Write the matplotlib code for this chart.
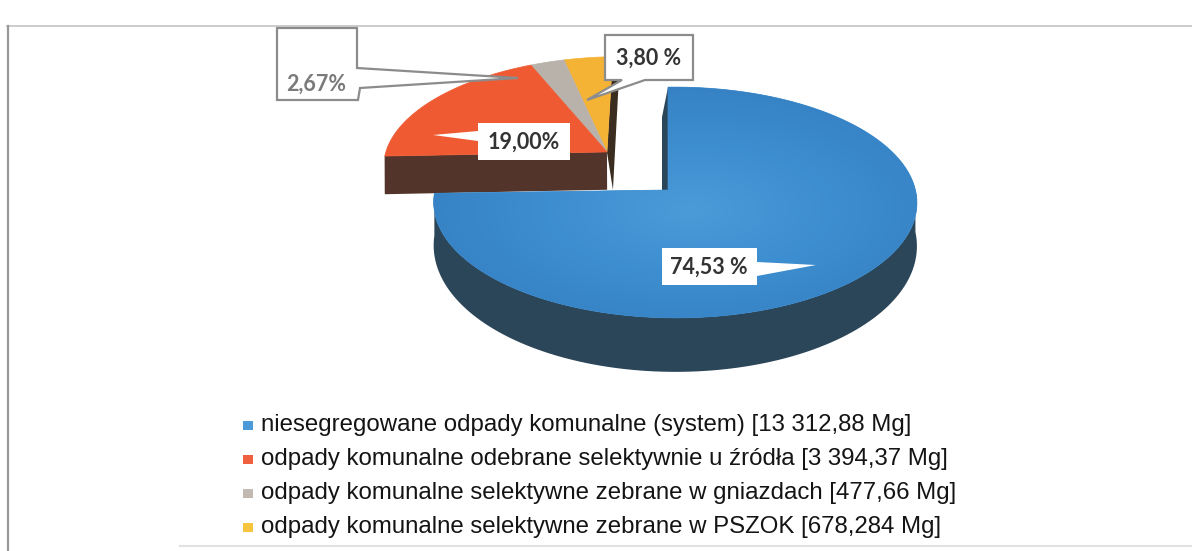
import matplotlib
matplotlib.use('Agg')
import matplotlib.pyplot as plt
from matplotlib.patches import Polygon, Rectangle
from matplotlib.colors import LinearSegmentedColormap
import numpy as np

# dane
kategorie = ['niesegregowane odpady komunalne (system)',
             'odpady komunalne odebrane selektywnie u źródła',
             'odpady komunalne selektywne zebrane w gniazdach',
             'odpady komunalne selektywne zebrane w PSZOK']
masa_mg = [13312.88, 3394.37, 477.66, 678.284]
masa_txt = ['13 312,88', '3 394,37', '477,66', '678,284']
sufiks_proc = [' %', '%', '%', ' %']

kolory_gora = ['#3b8dd0', '#ef5a32', '#b9b2ab', '#f5b335']
kolory_bok = ['#2c4659', '#52342a', '#5e5650', '#3a2c1e']
kolory_leg = ['#4a9ad8', '#ef6040', '#c2bab2', '#f7c440']

# kolejnosc wycinkow od 90 stopni przeciwnie do zegara
kolejnosc = [3, 2, 1, 0]

# geometria "3D"
CX, CY, R, A = 668, 190, 240, 114
P, Q = 0.108, -0.03
ODSUN = (-0.266, 0.349)   # wysuniecie grupy malych wycinkow


def rzut(u, v):
    s = 1.0 / (1 + P * v + Q * u)
    return CX + R * u * s, CY - A * v * s


def glebokosc(v):
    return 42 - 12 * v


def luk(u0, v0, a, b, n=120):
    t = np.radians(np.linspace(a, b, n))
    u = u0 + np.cos(t)
    v = v0 + np.sin(t)
    x, y = rzut(u, v)
    return x, y, v


def gora(u0, v0, a, b):
    x, y, v = luk(u0, v0, a, b)
    xc, yc = rzut(u0, v0)
    return np.column_stack([np.r_[xc, x], np.r_[yc, y]])


def bok(u0, v0, a, b):
    wyniki = []
    for lo, hi in [(180, 360), (540, 720)]:
        aa, bb = max(a, lo), min(b, hi)
        if bb > aa:
            x, y, v = luk(u0, v0, aa, bb)
            d = glebokosc(v)
            pts = np.column_stack([np.r_[x, x[::-1]], np.r_[y, (y + d)[::-1]]])
            wyniki.append(pts)
    return wyniki


def sciana(u0, v0, kat, normalna):
    n = np.radians(normalna)
    if np.sin(n) > 0.02:
        return None
    dx = 6 * np.cos(n)
    t = np.radians(kat)
    x0, y0 = rzut(u0, v0)
    x1, y1 = rzut(u0 + np.cos(t), v0 + np.sin(t))
    d0 = glebokosc(v0)
    d1 = glebokosc(v0 + np.sin(t))
    return np.array([[x0, y0], [x1, y1], [x1 + dx, y1 + d1], [x0 + dx, y0 + d0]])


suma = sum(masa_mg)
katy = {}
start = 90.0
for i in kolejnosc:
    kat = 360.0 * masa_mg[i] / suma
    katy[i] = (start, start + kat)
    start += kat

fig = plt.figure(figsize=(11.92, 5.51), dpi=100)
ax = fig.add_axes([0, 0, 1, 1])
ax.set_xlim(0, 1192)
ax.set_ylim(551, 0)
ax.axis('off')

# ramka ze skanu
ax.plot([7, 1192], [26, 26], color='#c4c4c4', lw=1.2)
ax.plot([8, 8], [26, 551], color='#9a9a9a', lw=1.6)
ax.plot([180, 1192], [546, 546], color='#e2e2e2', lw=1.5)

# grupa wysunieta (male wycinki)
grupa = [3, 2, 1]
u0, v0 = ODSUN
a_gr, b_gr = katy[3][0], katy[1][1]
for i in grupa:
    for pts in bok(u0, v0, *katy[i]):
        ax.add_patch(Polygon(pts, closed=True, fc=kolory_bok[i], ec='none'))
f = sciana(u0, v0, a_gr, a_gr - 90)
if f is not None:
    ax.add_patch(Polygon(f, closed=True, fc=kolory_bok[3], ec='none'))
f = sciana(u0, v0, b_gr, b_gr + 90)
if f is not None:
    ax.add_patch(Polygon(f, closed=True, fc=kolory_bok[1], ec='none'))
for i in grupa:
    ax.add_patch(Polygon(gora(u0, v0, *katy[i]), closed=True,
                         fc=kolory_gora[i], ec=kolory_gora[i], lw=0.5))

# duzy wycinek
a0, b0 = katy[0]
for pts in bok(0, 0, a0, b0):
    ax.add_patch(Polygon(pts, closed=True, fc=kolory_bok[0], ec='none'))
for kat, nrm in [(a0, a0 - 90), (b0, b0 + 90)]:
    f = sciana(0, 0, kat, nrm)
    if f is not None:
        ax.add_patch(Polygon(f, closed=True, fc=kolory_bok[0], ec='none'))
gora_nieb = Polygon(gora(0, 0, a0, b0), closed=True,
                    fc=kolory_gora[0], ec=kolory_gora[0], lw=0.5)
ax.add_patch(gora_nieb)

# lekki polysk na gornej powierzchni
gx, gy = np.meshgrid(np.linspace(430, 920, 200), np.linspace(80, 330, 120))
rr = np.sqrt(((gx - 690) / 260) ** 2 + ((gy - 210) / 120) ** 2)
cm = LinearSegmentedColormap.from_list('nieb', ['#4b9bd8', '#3d8ed0', '#3580c2'])
im = ax.imshow(rr, extent=(430, 920, 330, 80), cmap=cm, vmin=0, vmax=1.1,
               interpolation='bilinear', zorder=2)
im.set_clip_path(gora_nieb)

# etykiety procentowe
proc = [f'{100 * m / suma:.2f}'.replace('.', ',') + s for m, s in zip(masa_mg, sufiks_proc)]
ft = dict(family='Lato', fontsize=15.5, fontweight='bold', ha='center', va='center', zorder=5)

ax.add_patch(Polygon([(662, 248), (757, 248), (757, 262), (816, 265), (757, 276),
                      (757, 285), (662, 285)], closed=True, fc='white', ec='none', zorder=4))
ax.text(709, 267, proc[0], color='#333333', **ft)

ax.add_patch(Polygon([(478, 123), (570, 123), (570, 160), (478, 160), (478, 141),
                      (433, 135), (478, 131)], closed=True, fc='white', ec='none', zorder=4))
ax.text(524, 142, proc[1], color='#333333', **ft)

ax.add_patch(Polygon([(277, 28), (357, 28), (357, 68), (518, 78), (360, 88),
                      (358, 100), (277, 100)], closed=True, fc='white', ec='#8c8c8c',
                     lw=1.6, zorder=4))
ax.text(316, 84, proc[2], color='#7a7a7a', **ft)

ax.add_patch(Polygon([(605, 35), (693, 35), (693, 80), (645, 80), (587, 100),
                      (622, 80), (605, 80)], closed=True, fc='white', ec='#8c8c8c',
                     lw=1.6, zorder=4))
ax.text(649, 58, proc[3], color='#333333', **ft)

# legenda
y_leg = [425, 459, 493, 527]
for i in range(4):
    ax.add_patch(Rectangle((243, y_leg[i] - 4), 10, 9, fc=kolory_leg[i], ec='none'))
    ax.text(261, y_leg[i], f'{kategorie[i]} [{masa_txt[i]} Mg]', family='Liberation Sans',
            fontsize=17.3, color='#141414', ha='left', va='center')

fig.savefig('out.png', dpi=100)
